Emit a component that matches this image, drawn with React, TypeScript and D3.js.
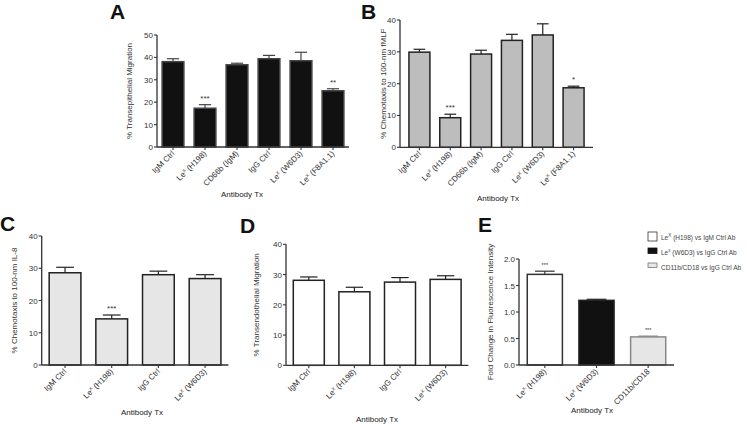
import React from "react";
import * as d3 from "d3";

// ---------- DATA ----------
const aCategories = ["IgM Ctrl", "Le^x (H198)", "CD66b (IgM)", "IgG Ctrl", "Le^x (W6D3)", "Le^x (F8A1.1)"];
const aMeans = [38.1, 17.3, 36.7, 39.4, 38.5, 25.1];
const aErrors = [1.3, 1.6, 0.7, 1.5, 3.8, 0.9];
const aSig = ["", "***", "", "", "", "**"];
const aTicks = [0, 10, 20, 30, 40, 50];

const bCategories = ["IgM Ctrl", "Le^x (H198)", "CD66b (IgM)", "IgG Ctrl", "Le^x (W6D3)", "Le^x (F8A1.1)"];
const bMeans = [29.9, 9.3, 29.3, 33.6, 35.3, 18.7];
const bErrors = [0.9, 1.1, 1.2, 1.9, 3.5, 0.5];
const bSig = ["", "***", "", "", "", "*"];
const bTicks = [0, 10, 20, 30, 40];

const cCategories = ["IgM Ctrl", "Le^x (H198)", "IgG Ctrl", "Le^x (W6D3)"];
const cMeans = [28.6, 14.3, 28.0, 26.8];
const cErrors = [1.7, 1.2, 1.1, 1.2];
const cSig = ["", "***", "", ""];
const cTicks = [0, 10, 20, 30, 40];

const dCategories = ["IgM Ctrl", "Le^x (H198)", "IgG Ctrl", "Le^x (W6D3)"];
const dMeans = [28.1, 24.3, 27.5, 28.4];
const dErrors = [1.1, 1.5, 1.5, 1.2];
const dSig = ["", "", "", ""];
const dTicks = [0, 10, 20, 30, 40];

const eCategories = ["Le^x (H198)", "Le^x (W6D3)", "CD11b/CD18"];
const eMeans = [1.71, 1.22, 0.53];
const eErrors = [0.06, 0.02, 0.015];
const eSig = ["***", "", "***"];
const eTicks = [0, 0.5, 1.0, 1.5, 2.0];
const eLegend = ["Le^X (H198) vs IgM Ctrl Ab", "Le^x (W6D3) vs IgG Ctrl Ab", "CD11b/CD18 vs IgG Ctrl Ab"];

// ---------- RENDER ----------
const FONT = "'Liberation Sans', Arial, Helvetica, sans-serif";
const AXIS = "#333";

function Lbl({ s }: { s: string }) {
  if (s.startsWith("Le^")) {
    const sup = s[3];
    const rest = s.slice(4);
    return (
      <>
        Le<tspan dy={-3} fontSize="0.72em">{sup}</tspan>
        <tspan dy={3}>{rest}</tspan>
      </>
    );
  }
  return <>{s}</>;
}

type PanelProps = {
  letter: string;
  letterX: number;
  letterY: number;
  cats: string[];
  means: number[];
  errs: number[];
  sig: string[];
  ticks: number[];
  tickFmt?: (v: number) => string;
  xRange: [number, number];
  axisX: [number, number];
  y0: number;
  yTop: number;
  fills: string[];
  strokes: string[];
  yTitle: string;
  yTitleX: number;
  xTitleX: number;
  xTitleY: number;
  sigSize?: number;
};

function Panel(p: PanelProps) {
  const max = p.ticks[p.ticks.length - 1];
  const x = d3.scaleBand<string>().domain(p.cats).range(p.xRange).paddingInner(0.32).paddingOuter(0.16);
  const y = d3.scaleLinear().domain([0, max]).range([p.y0, p.yTop]);
  const bw = x.bandwidth();
  const fmt = p.tickFmt || ((v: number) => String(v));
  return (
    <g fontFamily={FONT}>
      <text x={p.letterX} y={p.letterY} fontSize={21} fontWeight="bold" fill="#111">{p.letter}</text>
      {p.cats.map((c, i) => {
        const x0 = x(c)!;
        const top = y(p.means[i]);
        const et = y(p.means[i] + p.errs[i]);
        const cx = x0 + bw / 2;
        return (
          <g key={c + i}>
            <line x1={cx} x2={cx} y1={top} y2={et} stroke={p.strokes[i]} strokeWidth={1.2} />
            <line x1={cx - bw * 0.28} x2={cx + bw * 0.28} y1={et} y2={et} stroke={p.strokes[i]} strokeWidth={1.2} />
            <rect x={x0} y={top} width={bw} height={p.y0 - top} fill={p.fills[i]} stroke={p.strokes[i]} strokeWidth={1.5} />
            {p.sig[i] && (
              <text x={cx} y={et - 4} fontSize={p.sigSize || 8} textAnchor="middle" fill="#333">{p.sig[i]}</text>
            )}
          </g>
        );
      })}
      {/* y axis */}
      <line x1={p.axisX[0]} x2={p.axisX[0]} y1={y(0)} y2={y(max)} stroke={AXIS} strokeWidth={1.3} />
      {p.ticks.map((t) => (
        <g key={t}>
          <line x1={p.axisX[0] - 3} x2={p.axisX[0]} y1={y(t)} y2={y(t)} stroke={AXIS} strokeWidth={1.1} />
          <text x={p.axisX[0] - 4} y={y(t) + 3} fontSize={8} textAnchor="end" fill="#333">{fmt(t)}</text>
        </g>
      ))}
      {/* x axis */}
      <line x1={p.axisX[0]} x2={p.axisX[1]} y1={p.y0} y2={p.y0} stroke={AXIS} strokeWidth={1.3} />
      {p.cats.map((c) => {
        const cx = x(c)! + bw / 2;
        return (
          <g key={"t" + c}>
            <line x1={cx} x2={cx} y1={p.y0} y2={p.y0 + 3} stroke={AXIS} strokeWidth={1.1} />
            <text transform={`translate(${cx + 2},${p.y0 + 7}) rotate(-45)`} fontSize={8} textAnchor="end" fill="#333">
              <Lbl s={c} />
            </text>
          </g>
        );
      })}
      <text transform={`translate(${p.yTitleX},${(p.y0 + p.yTop) / 2}) rotate(-90)`} fontSize={8} textAnchor="middle" fill="#333">
        {p.yTitle}
      </text>
      <text x={p.xTitleX} y={p.xTitleY} fontSize={8} textAnchor="middle" fill="#222">Antibody Tx</text>
    </g>
  );
}

export default function App() {
  const blacks = aCategories.map(() => "#111");
  const grays = bCategories.map(() => "#bdbdbd");
  const blk = bCategories.map(() => "#222");
  const lg = cCategories.map(() => "#e6e6e6");
  const wh = dCategories.map(() => "#fff");
  return (
    <svg width={747} height={424} style={{ position: "absolute", left: 0, top: 0, background: "#fff" }}>
      <rect width={747} height={424} fill="#fff" />
      <Panel letter="A" letterX={110} letterY={19} cats={aCategories} means={aMeans} errs={aErrors} sig={aSig}
        ticks={aTicks} xRange={[157, 349]} axisX={[157, 349]} y0={147} yTop={35}
        fills={blacks} strokes={aCategories.map(() => "#444")} yTitle="% Transepithelial Migration" yTitleX={132}
        xTitleX={242} xTitleY={197} />
      <Panel letter="B" letterX={361} letterY={19} cats={bCategories} means={bMeans} errs={bErrors} sig={bSig}
        ticks={bTicks} xRange={[404, 589]} axisX={[400, 593]} y0={147.3} yTop={20}
        fills={grays} strokes={blk} yTitle="% Chemotaxis to 100-nm fMLF" yTitleX={386}
        xTitleX={498} xTitleY={201} />
      <Panel letter="C" letterX={0} letterY={231} cats={cCategories} means={cMeans} errs={cErrors} sig={cSig}
        ticks={cTicks} xRange={[41.7, 228.4]} axisX={[41.7, 228.4]} y0={365} yTop={236}
        fills={lg} strokes={cCategories.map(() => "#222")} yTitle="% Chemotaxis to 100-nm IL-8" yTitleX={17}
        xTitleX={142} xTitleY={415} />
      <Panel letter="D" letterX={240} letterY={233} cats={dCategories} means={dMeans} errs={dErrors} sig={dSig}
        ticks={dTicks} xRange={[286, 468.4]} axisX={[286, 468.4]} y0={365.3} yTop={244.3}
        fills={wh} strokes={dCategories.map(() => "#222")} yTitle="% Transendothelial Migration" yTitleX={259}
        xTitleX={377} xTitleY={422} />
      <Panel letter="E" letterX={478} letterY={232} cats={eCategories} means={eMeans} errs={eErrors} sig={eSig}
        ticks={eTicks} tickFmt={(v) => v.toFixed(1)} xRange={[519, 674]} axisX={[519, 674]} y0={365} yTop={259}
        fills={["#fff", "#111", "#e6e6e6"]} strokes={["#333", "#222", "#888"]}
        yTitle="Fold Change in Fluorescence Intensity" yTitleX={493} xTitleX={592} xTitleY={413} sigSize={5.5} />
      {/* Legend E */}
      <g fontFamily={FONT} fontSize={6.5} fill="#444">
        <rect x={648} y={232} width={9} height={9} fill="#fff" stroke="#333" strokeWidth={0.8} />
        <text x={661} y={239.5}><Lbl s={eLegend[0]} /></text>
        <rect x={648} y={248} width={9} height={5.5} fill="#111" stroke="#111" strokeWidth={0.8} />
        <text x={661} y={254.5}><Lbl s={eLegend[1]} /></text>
        <rect x={648} y={263} width={9} height={4.5} fill="#e6e6e6" stroke="#777" strokeWidth={0.8} />
        <text x={661} y={269.5}><Lbl s={eLegend[2]} /></text>
      </g>
    </svg>
  );
}
